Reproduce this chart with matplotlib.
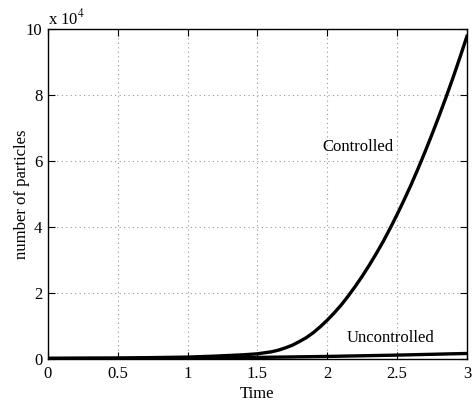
import matplotlib
matplotlib.use("Agg")
import matplotlib.pyplot as plt
from matplotlib.ticker import FuncFormatter

plt.rcParams['font.family'] = ['Liberation Serif', 'DejaVu Serif']
plt.rcParams['mathtext.fontset'] = 'stix'

# Particle counts over time (in particles)
time = [0.0, 0.5, 1.0, 1.2, 1.3, 1.4, 1.5, 1.55, 1.6, 1.65, 1.7, 1.75,
        1.8, 1.85, 1.9, 1.95, 2.0, 2.05, 2.1, 2.15, 2.2, 2.25, 2.3, 2.35,
        2.4, 2.45, 2.5, 2.55, 2.6, 2.65, 2.7, 2.75, 2.8, 2.85, 2.9, 2.95,
        3.0]
controlled = [200, 300, 600, 900, 1100, 1300, 1600, 1900, 2200, 2700,
              3400, 4200, 5300, 6500, 8000, 9800, 11800, 14000, 16400,
              19100, 22000, 25100, 28400, 31900, 35600, 39600, 43800,
              48200, 52800, 57700, 62800, 68100, 73600, 79300, 85200,
              91400, 97800]
time_u = [0.0, 1.0, 1.5, 2.0, 2.5, 3.0]
uncontrolled = [200, 300, 500, 800, 1200, 1700]

xticks = [0, 0.5, 1, 1.5, 2, 2.5, 3]
yticks = [0, 20000, 40000, 60000, 80000, 100000]

fig = plt.figure(figsize=(4.75, 4.03), dpi=100)
ax = fig.add_axes([0.101, 0.109, 0.882, 0.819])

ax.plot(time, controlled, color='black', lw=2.4, solid_joinstyle='round')
ax.plot(time_u, uncontrolled, color='black', lw=2.4, solid_joinstyle='round')

ax.set_xlim(0, 3)
ax.set_ylim(0, 100000)
ax.set_xticks(xticks)
ax.set_xticklabels(['0', '0.5', '1', '1.5', '2', '2.5', '3'])
ax.set_yticks(yticks)
ax.yaxis.set_major_formatter(FuncFormatter(lambda v, p: f"{v/1e4:g}"))

ax.grid(True, linestyle=(0, (1, 3)), color='#999999', linewidth=0.8)
ax.tick_params(direction='in', top=True, right=True, length=5, width=0.8,
               labelsize=12, colors='black')
ax.tick_params(axis='x', pad=5)
ax.tick_params(axis='y', pad=4)
for s in ax.spines.values():
    s.set_linewidth(1.0)

ax.text(2.22, 64200, 'Controlled', fontsize=12, ha='center', va='center')
ax.text(2.455, 6400, 'Uncontrolled', fontsize=12, ha='center', va='center')

ax.text(0.0, 1.003, r'x 10$^{4}$', transform=ax.transAxes, fontsize=12,
        ha='left', va='bottom')

ax.set_xlabel('Time', fontsize=12)
ax.xaxis.set_label_coords(0.5, -0.083)
ax.set_ylabel('number of particles', fontsize=12)
ax.yaxis.set_label_coords(-0.043, 0.5)

fig.savefig('out.png', dpi=100)
